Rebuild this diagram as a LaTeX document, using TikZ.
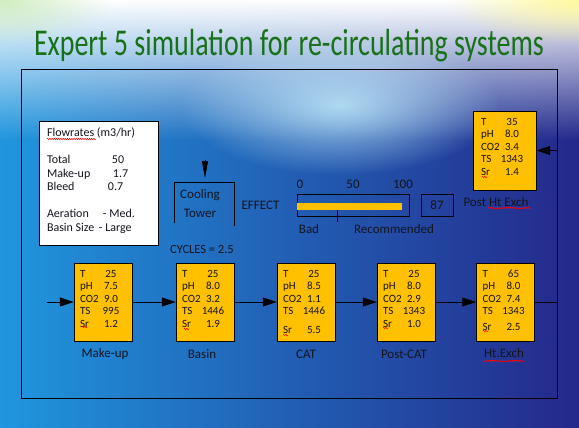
\documentclass[tikz,border=0pt]{standalone}
\usepackage{fontspec}
\setmainfont{Carlito}
\usepackage{graphicx}
\usepackage{xcolor}
\usetikzlibrary{positioning, arrows.meta, fadings, decorations.pathmorphing}

\definecolor{boxgold}{RGB}{255,192,0}
\definecolor{titlegreen}{RGB}{24,112,24}
\definecolor{bgleft}{RGB}{32,150,222}
\definecolor{bgmid}{RGB}{36,112,200}
\definecolor{bgright}{RGB}{36,40,138}
\definecolor{inkdark}{RGB}{20,20,30}

\tikzfading[name=fadedown, top color=transparent!0, bottom color=transparent!100]
\tikzfading[name=glowfade, inner color=transparent!15, outer color=transparent!100]

% one line of a stream read-out: name, then value
\newcommand{\reading}[2]{\makebox[17pt][l]{#1}\makebox[28pt][c]{#2}}

\begin{document}
\begin{tikzpicture}[x=1pt, y=-1pt,
        % Define the styles for the stream boxes and their texts
        stream/.style={draw, fill=boxgold, minimum width=58pt, minimum height=78pt, inner sep=0pt},
        readout/.style={anchor=north west, align=left, inner xsep=6pt, inner ysep=7pt,
            font=\fontsize{11}{12.5}\selectfont, text=inkdark},
        tag/.style={font=\fontsize{13}{15}\selectfont, text=inkdark},
        flow/.style={-{Triangle[length=14pt, width=9pt]}, line width=1pt},
        spell/.style={red, line width=0.5pt, decorate,
            decoration={snake, amplitude=0.7pt, segment length=2.2pt}}]

        \useasboundingbox (0,0) rectangle (579,428);

        % 1. The slide background
        \fill[left color=bgleft, middle color=bgmid, right color=bgright] (0,0) rectangle (579,428);
        \fill[white, path fading=fadedown] (0,0) rectangle (579,140);
        \fill[white!75!cyan, path fading=glowfade] (340,105) ellipse [x radius=160, y radius=70];
        \fill[yellow!45, path fading=glowfade] (579,0) ellipse [x radius=130, y radius=45];
        \fill[yellow!30!green!30, path fading=glowfade] (0,0) ellipse [x radius=110, y radius=45];

        % 2. Title and frame
        \node[font=\fontsize{28}{30}\selectfont, text=titlegreen] (title) at (289,46)
            {\scalebox{1}[1.35]{Expert 5 simulation for re-circulating systems}};
        \draw[line width=0.9pt] (21,69) rectangle (557,398);

        % 3. Flowrates panel
        \node[draw, fill=white, minimum width=119pt, minimum height=124pt, inner sep=0pt] (flowbox) at (98.5,183) {};
        \node[anchor=north west, align=left, inner xsep=8pt, inner ysep=7pt,
            font=\fontsize{12}{13.5}\selectfont, text=inkdark] (flowtext) at (flowbox.north west)
            {Flowrates (m3/hr)\\[13.5pt]
             \makebox[65pt][l]{Total}50\\
             \makebox[66pt][l]{Make-up}1.7\\
             \makebox[61pt][l]{Bleed}0.7\\[13.5pt]
             \makebox[56pt][l]{Aeration}- Med.\\
             \makebox[52pt][l]{Basin Size}- Large};

        % 4. Cooling tower, effect gauge and cycles
        \draw[line width=0.9pt] (174,223) -- (174,182) -- (234,182) -- (234,226);
        \coordinate (feed) at (205,160);
        \coordinate (feedend) at (205,178);
        \draw[-{Triangle[length=17pt, width=6pt]}, line width=0.6pt] (feed) -- (feedend);
        \node[tag, align=center, font=\fontsize{13}{19}\selectfont] (tower) at (200,203.5) {Cooling\\Tower};
        \node[tag] (effect) at (260.5,205) {EFFECT};
        \node[draw, line width=0.8pt, minimum width=112pt, minimum height=22pt, inner sep=0pt] (gauge) at (353,205) {};
        \fill[boxgold] (297,203) rectangle (402,210);
        \draw[line width=0.8pt] (337,210) -- (337,222);
        \foreach \v/\x in {0/300, 50/353, 100/403}
            \node[tag] (scale\v) at (\x,184) {\v};
        \node[tag] (bad) at (309,229) {Bad};
        \node[tag] (recommended) at (394,229) {Recommended};
        \node[tag, draw, line width=0.8pt, minimum width=32pt, minimum height=22pt, inner sep=0pt] (score) at (437,205) {87};
        \node[tag, font=\fontsize{12.5}{15}\selectfont] (cycles) at (202,249) {CYCLES = 2.5};

        % 5. The stream boxes
        \node[stream] (makeup) at (103,302) {};
        \node[stream] (basin) at (205,302) {};
        \node[stream] (cat) at (306,302) {};
        \node[stream] (postcat) at (406,302) {};
        \node[stream] (htx) at (505.5,302) {};
        \node[stream, minimum width=63pt, minimum height=79pt] (posthx) at (504.5,150.5) {};

        \node[readout] (makeupdata) at (makeup.north west)
            {\reading{T}{25}\\ \reading{pH}{7.5}\\ \reading{CO2}{9.0}\\ \reading{TS}{995}\\ \reading{Sr}{1.2}};
        \node[readout] (basindata) at (basin.north west)
            {\reading{T}{25}\\ \reading{pH}{8.0}\\ \reading{CO2}{3.2}\\ \reading{TS}{1446}\\ \reading{Sr}{1.9}};
        \node[readout] (catdata) at (cat.north west)
            {\reading{T}{25}\\ \reading{pH}{8.5}\\ \reading{CO2}{1.1}\\ \reading{TS}{1446}\\[6pt] \reading{Sr}{5.5}};
        \node[readout] (postcatdata) at (postcat.north west)
            {\reading{T}{25}\\ \reading{pH}{8.0}\\ \reading{CO2}{2.9}\\ \reading{TS}{1343}\\ \reading{Sr}{1.0}};
        \node[readout] (htxdata) at (htx.north west)
            {\reading{T}{65}\\ \reading{pH}{8.0}\\ \reading{CO2}{7.4}\\ \reading{TS}{1343}\\[3pt] \reading{Sr}{2.5}};
        \node[readout, inner xsep=8pt] (posthxdata) at (posthx.north west)
            {\reading{T}{35}\\ \reading{pH}{8.0}\\ \reading{CO2}{3.4}\\ \reading{TS}{1343}\\ \reading{Sr}{1.4}};

        % 6. Names under the boxes
        \node[tag] (makeuplbl) at (105,354) {Make-up};
        \node[tag] (basinlbl) at (202,354) {Basin};
        \node[tag] (catlbl) at (306,354) {CAT};
        \node[tag] (postcatlbl) at (404,354) {Post-CAT};
        \node[tag] (htxlbl) at (504,353) {Ht.Exch};
        \node[tag] (posthxlbl) at (496,202) {Post Ht Exch};

        % 7. Connectors
        \coordinate (inlet) at (47,302);
        \coordinate (rimlow) at (557,302);
        \coordinate (rimhigh) at (557,150.5);
        \draw[flow] (inlet) -- (makeup.west);
        \foreach \a/\b in {makeup/basin, basin/cat, cat/postcat, postcat/htx}
            \draw[flow] (\a.east) -- (\b.west);
        \draw[line width=1pt] (htx.east) -- (rimlow);
        \draw[flow] (rimhigh) -- (posthx.east);

        % 8. Spell-check marks
        \draw[spell] (47,139) -- (96,139);
        \draw[spell] (483,361) -- (525,361);
        \draw[spell] (488,208) -- (531,208);
        \foreach \x/\y in {82/327, 184/329, 283/335, 383/328, 483/331, 482/177}
            \draw[spell] (\x,\y) -- ++(5,0);
    \end{tikzpicture}
\end{document}
